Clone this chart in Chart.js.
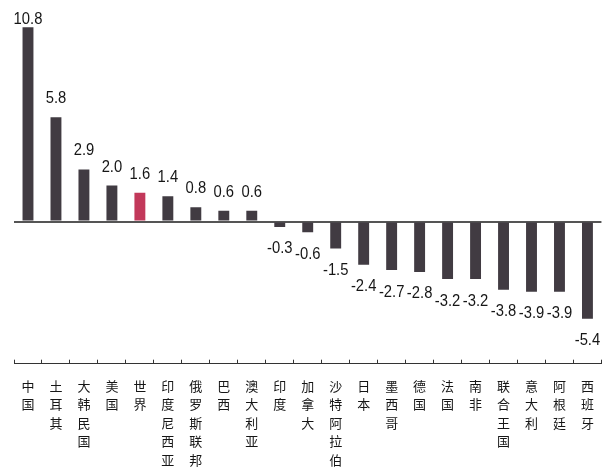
<!DOCTYPE html>
<html>
<head>
<meta charset="utf-8">
<script src="https://cdn.jsdelivr.net/npm/chart.js@4/dist/chart.umd.min.js"></script>
<style>
  html, body { margin: 0; padding: 0; background: #ffffff; }
  #wrap { width: 611px; height: 473px; position: relative; }
</style>
</head>
<body>
<div id="wrap"><canvas id="c"></canvas></div>
<script>
// Categories (economies) and their values
const categories = ['中国', '土耳其', '大韩民国', '美国', '世界', '印度尼西亚', '俄罗斯联邦', '巴西', '澳大利亚', '印度',
  '加拿大', '沙特阿拉伯', '日本', '墨西哥', '德国', '法国', '南非', '联合王国', '意大利', '阿根廷', '西班牙'];
const values = [10.8, 5.8, 2.9, 2.0, 1.6, 1.4, 0.8, 0.6, 0.6, -0.3,
  -0.6, -1.5, -2.4, -2.7, -2.8, -3.2, -3.2, -3.8, -3.9, -3.9, -5.4];
const highlight = '世界';

const BAR = '#413b42';
const HIGHLIGHT = '#c2385a';
const TEXT = '#161616';

// Writes each value above (positive) or below (negative) its bar, in a condensed face
const valueLabels = {
  id: 'valueLabels',
  afterDatasetsDraw(chart) {
    const ctx = chart.ctx;
    const meta = chart.getDatasetMeta(0);
    const area = chart.chartArea;
    ctx.save();
    ctx.font = '17px "Liberation Sans", Arial, sans-serif';
    ctx.fillStyle = TEXT;
    ctx.textAlign = 'center';
    ctx.textBaseline = 'alphabetic';
    meta.data.forEach((bar, i) => {
      const v = values[i];
      const txt = v.toFixed(1);
      const y = v >= 0 ? Math.max(bar.y - 14, area.top + 24) : bar.y + 26.5;
      ctx.save();
      ctx.translate(bar.x, y);
      ctx.scale(0.87, 1);
      ctx.fillText(txt, 0, 0);
      ctx.restore();
    });
    ctx.restore();
  }
};

new Chart(document.getElementById('c'), {
  type: 'bar',
  data: {
    labels: categories,
    datasets: [{
      data: values,
      backgroundColor: categories.map(c => c === highlight ? HIGHLIGHT : BAR),
      borderWidth: 0,
      categoryPercentage: 1,
      barPercentage: 0.39
    }]
  },
  options: {
    responsive: true,
    maintainAspectRatio: false,
    animation: false,
    layout: { padding: { left: 14, right: 2, top: 0, bottom: -13 } },
    plugins: {
      legend: { display: false },
      tooltip: { enabled: false }
    },
    scales: {
      x: {
        position: 'bottom',
        offset: true,
        border: { display: true, color: '#333333', width: 1 },
        grid: {
          offset: true,
          drawOnChartArea: false,
          drawTicks: true,
          tickLength: -4,
          color: '#333333',
          lineWidth: 1
        },
        ticks: {
          autoSkip: false,
          maxRotation: 0,
          minRotation: 0,
          padding: 17,
          color: TEXT,
          font: { family: '"Noto Sans CJK SC", sans-serif', size: 13, lineHeight: 1.42 },
          callback: (val, idx) => categories[idx].split('')
        }
      },
      y: {
        min: -7.905,
        max: 12.318,
        border: { display: false },
        ticks: { display: false, stepSize: 1 },
        grid: {
          drawTicks: false,
          color: ctx => ctx.tick && ctx.tick.value === 0 ? '#555555' : 'rgba(0,0,0,0)',
          lineWidth: ctx => ctx.tick && ctx.tick.value === 0 ? 2 : 0
        }
      }
    }
  },
  plugins: [valueLabels]
});
</script>
</body>
</html>
